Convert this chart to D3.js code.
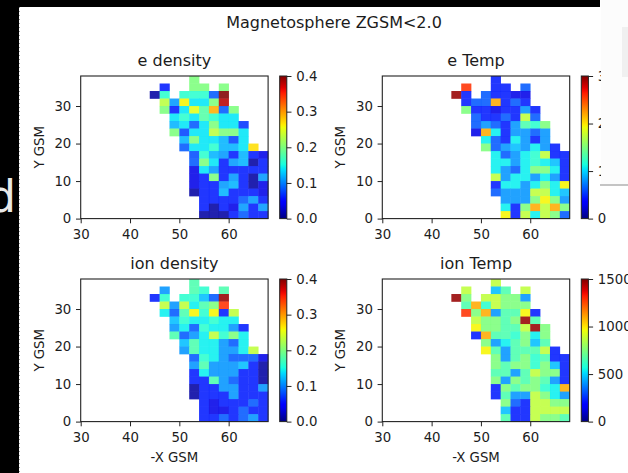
<!DOCTYPE html>
<html>
<head>
<meta charset="utf-8">
<script src="https://cdn.jsdelivr.net/npm/d3@7"></script>
<style>
  html, body { margin: 0; padding: 0; background: #fff; }
  svg { display: block; font-family: "DejaVu Sans", sans-serif; }
</style>
</head>
<body>
<svg id="chart" width="628" height="473"></svg>
<script>
const _ = null;

// bin left edges (2 GSM units wide)
const xBins = [44, 46, 48, 50, 52, 54, 56, 58, 60, 62, 64, 66];
const yBins = [36, 34, 32, 30, 28, 26, 24, 22, 20, 18, 16, 14, 12, 10, 8, 6, 4, 2, 0];

const xTicks = [30, 40, 50, 60];
const yTicks = [0, 10, 20, 30];
const densityTicks = [0, 0.1, 0.2, 0.3, 0.4];
const eTempTicks = [0, 100, 200, 300];
const ionTempTicks = [0, 500, 1000, 1500];

const panelTitles = ["e density", "e Temp", "ion density", "ion Temp"];

const eDensity = [
  [_, _, _, _, .20, _, _, _, _, _, _, _],
  [_, .06, _, _, .20, .20, _, .20, _, _, _, _],
  [.012, .16, _, .16, .16, .16, .084, .40, _, _, _, _],
  [_, .23, .11, .26, .14, .14, .20, .38, _, _, _, _],
  [_, .20, .06, .14, .25, .18, .29, .084, .20, _, _, _],
  [_, _, .14, .16, .14, .18, .16, .14, .14, _, _, _],
  [_, _, .12, .14, .084, .14, .20, .14, .14, .07, _, _],
  [_, _, .20, .075, .14, .14, .23, .20, .20, .14, _, _],
  [_, _, _, .12, .20, .14, .14, .12, .075, .14, _, _],
  [_, _, _, .084, .14, .14, .16, .12, .12, .14, .27, _],
  [_, _, _, _, .08, .16, .12, .11, .06, .12, .06, .036],
  [_, _, _, _, .084, .20, .14, .06, .11, .12, .012, .06],
  [_, _, _, _, .036, .14, .11, .06, .06, .06, .06, .06],
  [_, _, _, _, .036, .06, .20, .06, .11, .06, .012, .11],
  [_, _, _, _, .036, .06, .06, .11, .12, .06, .012, .036],
  [_, _, _, _, .012, .06, .06, .12, .06, .06, .06, .036],
  [_, _, _, _, _, .06, .06, .06, .06, .084, .11, .06],
  [_, _, _, _, _, .06, .012, .06, .036, .11, .06, .11],
  [_, _, _, _, _, .012, .012, .012, .06, .084, .06, .06]
];

const ionDensity = [
  [_, _, _, _, .176, _, _, _, _, _, _, _],
  [_, .108, _, _, .176, .16, _, .176, _, _, _, _],
  [.06, .16, _, .16, .16, .124, .084, .392, _, _, _, _],
  [_, .232, .108, .232, .144, .176, .20, .344, _, _, _, _],
  [_, .144, .084, .176, .26, .16, .26, .06, .232, _, _, _],
  [_, _, .124, .16, .144, .144, .16, .144, .144, _, _, _],
  [_, _, .108, .144, .084, .16, .144, .144, .108, .06, _, _],
  [_, _, .176, .084, .108, .144, .232, .16, .20, .144, _, _],
  [_, _, _, .124, .176, .144, .144, .108, .084, .144, _, _],
  [_, _, _, .108, .176, .144, .144, .108, .108, .144, .232, _],
  [_, _, _, _, .084, .16, .144, .108, .084, .084, .084, .036],
  [_, _, _, _, .108, .176, .108, .108, .108, .124, .06, .012],
  [_, _, _, _, .06, .144, .108, .108, .108, .06, .06, .012],
  [_, _, _, _, .06, .06, .176, .108, .084, .06, .06, .012],
  [_, _, _, _, .012, .06, .06, .108, .108, .06, .06, .108],
  [_, _, _, _, .012, .06, .06, .06, .108, .06, .06, .06],
  [_, _, _, _, _, .06, .036, .06, .06, .06, .084, .06],
  [_, _, _, _, _, .06, .036, .036, .06, .084, .06, .06],
  [_, _, _, _, _, .06, .06, .084, .06, .084, .108, .06]
];

const eTemp = [
  [_, _, _, _, 45, _, _, _, _, _, _, _],
  [_, 258, _, _, 45, 45, _, 63, _, _, _, _],
  [294, 45, _, 63, 45, 45, 27, 27, _, _, _, _],
  [_, 45, 63, 63, 219, 45, 63, 45, _, _, _, _],
  [_, 150, 45, 45, 27, 45, 45, 81, 45, _, _, _],
  [_, _, 63, 45, 45, 63, 45, 174, 63, _, _, _],
  [_, _, 63, 81, 63, 45, 81, 132, 120, 150, _, _],
  [_, _, 27, 219, 108, 45, 81, 81, 63, 81, _, _],
  [_, _, _, 108, 63, 45, 108, 81, 45, 81, _, _],
  [_, _, _, 150, 63, 81, 93, 81, 108, 81, 45, _],
  [_, _, _, _, 108, 63, 81, 108, 120, 174, 45, 45],
  [_, _, _, _, 108, 108, 81, 108, 120, 108, 93, 45],
  [_, _, _, _, 108, 81, 63, 108, 150, 150, 108, 45],
  [_, _, _, _, 174, 81, 108, 108, 81, 108, 81, 45],
  [_, _, _, _, 45, 108, 108, 81, 108, 150, 108, 195],
  [_, _, _, _, 63, 81, 81, 81, 174, 174, 108, 93],
  [_, _, _, _, _, 81, 81, 81, 150, 195, 150, 81],
  [_, _, _, _, _, 108, 45, 150, 219, 174, 219, 150],
  [_, _, _, _, _, 195, 45, 174, 108, 174, 150, 63]
];

const ionTemp = [
  [_, _, _, _, 870, _, _, _, _, _, _, _],
  [_, 870, _, _, 465, 660, _, 870, _, _, _, _],
  [1470, 750, _, 870, 870, 750, 750, 405, _, _, _, _],
  [_, 660, 1095, 600, 870, 750, 750, 750, _, _, _, _],
  [_, 1290, 750, 1095, 405, 660, 660, 975, 225, _, _, _],
  [_, _, 870, 750, 750, 660, 750, 1470, 660, _, _, _],
  [_, _, 975, 750, 750, 660, 660, 870, 1470, 750, _, _],
  [_, _, 225, 1095, 660, 660, 600, 750, 540, 750, _, _],
  [_, _, _, 750, 405, 540, 660, 750, 465, 660, _, _],
  [_, _, _, 975, 660, 405, 660, 660, 660, 870, 225, _],
  [_, _, _, _, 750, 405, 660, 750, 600, 660, 225, 225],
  [_, _, _, _, 750, 660, 750, 750, 600, 750, 465, 225],
  [_, _, _, _, 660, 660, 405, 660, 870, 750, 750, 225],
  [_, _, _, _, 750, 405, 750, 660, 750, 660, 405, 225],
  [_, _, _, _, 225, 750, 660, 750, 750, 600, 540, 1095],
  [_, _, _, _, 225, 660, 405, 405, 870, 750, 540, 405],
  [_, _, _, _, _, 750, 315, 225, 870, 870, 750, 750],
  [_, _, _, _, _, 465, 225, 225, 870, 870, 870, 870],
  [_, _, _, _, _, 660, 225, 225, 870, 750, 750, 660]
];

// layout
const COL_X = [80.7, 382.3];
const ROW_Y = [76, 279];
const AX_W = 187.4;
const AX_H = 142.6;
const CBAR_OFFSET = 199;
const CBAR_W = 7.1;
const TICK = 4.7;
const TEXT = "#1c1c1c";

// matplotlib "jet"
const jetR = d3.scaleLinear([0, 0.35, 0.66, 0.89, 1], [0, 0, 1, 1, 0.5]).clamp(true);
const jetG = d3.scaleLinear([0, 0.125, 0.375, 0.64, 0.91, 1], [0, 0, 1, 1, 0, 0]).clamp(true);
const jetB = d3.scaleLinear([0, 0.11, 0.34, 0.65, 1], [0.5, 1, 1, 0, 0]).clamp(true);
function jet(t) {
  return d3.rgb(jetR(t) * 255, jetG(t) * 255, jetB(t) * 255).formatHex();
}

const svg = d3.select("#chart");
svg.append("rect").attr("width", 628).attr("height", 473).attr("fill", "#fff");

const defs = svg.append("defs");
const grad = defs.append("linearGradient")
  .attr("id", "jet-grad")
  .attr("x1", 0).attr("y1", 1).attr("x2", 0).attr("y2", 0);
grad.selectAll("stop")
  .data(d3.range(0, 1.0001, 0.02))
  .join("stop")
  .attr("offset", (d) => d)
  .attr("stop-color", (d) => jet(d));

svg.append("text")
  .attr("x", 334)
  .attr("y", 28)
  .attr("text-anchor", "middle")
  .attr("font-size", 16)
  .attr("fill", TEXT)
  .text("Magnetosphere ZGSM<2.0");

const panels = [
  { title: panelTitles[0], grid: eDensity, vmax: 0.4, ticks: densityTicks, fmt: d3.format(".1f"), col: 0, row: 0 },
  { title: panelTitles[1], grid: eTemp, vmax: 300, ticks: eTempTicks, fmt: d3.format("d"), col: 1, row: 0 },
  { title: panelTitles[2], grid: ionDensity, vmax: 0.4, ticks: densityTicks, fmt: d3.format(".1f"), col: 0, row: 1 },
  { title: panelTitles[3], grid: ionTemp, vmax: 1500, ticks: ionTempTicks, fmt: d3.format("d"), col: 1, row: 1 },
];

function styleAxis(g) {
  g.select(".domain").remove();
  g.selectAll(".tick line").attr("stroke", "#222").attr("stroke-width", 1);
  g.selectAll(".tick text").attr("fill", TEXT).attr("font-size", 13.3)
    .attr("font-family", "'DejaVu Sans', sans-serif");
}

function drawPanel(p) {
  const left = COL_X[p.col];
  const top = ROW_Y[p.row];
  const x = d3.scaleLinear([30, 68], [left, left + AX_W]);
  const y = d3.scaleLinear([0, 38], [top + AX_H, top]);
  const g = svg.append("g").attr("class", "panel");

  const cells = [];
  p.grid.forEach((rowVals, i) => {
    rowVals.forEach((v, j) => {
      if (v !== null) cells.push({ x0: xBins[j], y0: yBins[i], v });
    });
  });

  g.selectAll("rect.cell")
    .data(cells)
    .join("rect")
    .attr("class", "cell")
    .attr("x", (d) => x(d.x0))
    .attr("y", (d) => y(d.y0 + 2))
    .attr("width", (d) => x(d.x0 + 2) - x(d.x0) + 0.3)
    .attr("height", (d) => y(d.y0) - y(d.y0 + 2) + 0.3)
    .attr("fill", (d) => jet(d.v / p.vmax))
    .attr("fill-opacity", 0.87);

  g.append("rect")
    .attr("x", left).attr("y", top)
    .attr("width", AX_W).attr("height", AX_H)
    .attr("fill", "none").attr("stroke", "#222").attr("stroke-width", 1.1);

  g.append("g")
    .attr("transform", `translate(0,${top + AX_H})`)
    .call(d3.axisBottom(x).tickValues(xTicks).tickSize(TICK).tickPadding(6).tickSizeOuter(0))
    .call(styleAxis);

  g.append("g")
    .attr("transform", `translate(${left},0)`)
    .call(d3.axisLeft(y).tickValues(yTicks).tickSize(TICK).tickPadding(4.7).tickSizeOuter(0))
    .call(styleAxis);

  g.append("text")
    .attr("x", left + AX_W / 2)
    .attr("y", top - 10)
    .attr("text-anchor", "middle")
    .attr("font-size", 16)
    .attr("fill", TEXT)
    .text(p.title);

  g.append("text")
    .attr("transform", `translate(${left - 37},${top + AX_H / 2}) rotate(-90)`)
    .attr("text-anchor", "middle")
    .attr("font-size", 13.3)
    .attr("fill", TEXT)
    .text("Y GSM");

  if (p.row === 1) {
    g.append("text")
      .attr("x", left + AX_W / 2)
      .attr("y", top + AX_H + 40)
      .attr("text-anchor", "middle")
      .attr("font-size", 13.3)
      .attr("fill", TEXT)
      .text("-X GSM");
  }

  // colorbar
  const cx = left + CBAR_OFFSET;
  const c = d3.scaleLinear([0, p.vmax], [top + AX_H, top]);
  g.append("rect")
    .attr("x", cx).attr("y", top)
    .attr("width", CBAR_W).attr("height", AX_H)
    .attr("fill", "url(#jet-grad)")
    .attr("stroke", "#222").attr("stroke-width", 1);

  g.append("g")
    .attr("transform", `translate(${cx + CBAR_W},0)`)
    .call(d3.axisRight(c).tickValues(p.ticks).tickFormat(p.fmt).tickSize(TICK).tickPadding(4.7).tickSizeOuter(0))
    .call(styleAxis);
}

panels.forEach(drawPanel);

// screenshot surroundings: black frame, overlapping window on the right
svg.append("rect").attr("x", 0).attr("y", 0).attr("width", 19).attr("height", 473).attr("fill", "#000");
svg.append("rect").attr("x", 0).attr("y", 0).attr("width", 600).attr("height", 7).attr("fill", "#000");
svg.append("line")
  .attr("x1", 19.5).attr("x2", 19.5).attr("y1", 7).attr("y2", 473)
  .attr("stroke", "#9a9a9a").attr("stroke-width", 1).attr("stroke-dasharray", "1,3");
svg.append("text")
  .attr("x", -12).attr("y", 212)
  .attr("font-size", 44)
  .attr("fill", "#e8e8e8")
  .text("d");

svg.append("rect").attr("x", 601).attr("y", 0).attr("width", 27).attr("height", 184).attr("fill", "#fcfcfc");
svg.append("rect").attr("x", 622).attr("y", 27).attr("width", 6).attr("height", 50).attr("fill", "#f0f0f0");
svg.append("line")
  .attr("x1", 600).attr("x2", 628).attr("y1", 185).attr("y2", 185)
  .attr("stroke", "#c4c4c4").attr("stroke-width", 2);
</script>
</body>
</html>
